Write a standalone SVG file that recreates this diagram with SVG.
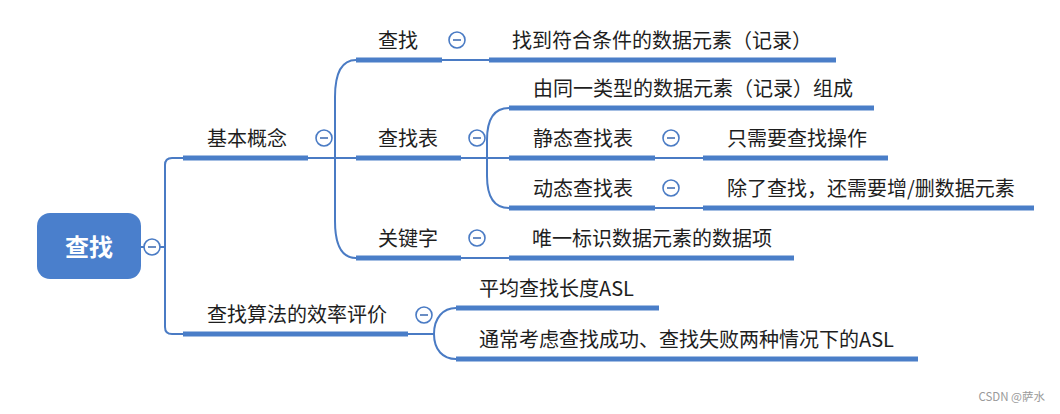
<svg xmlns="http://www.w3.org/2000/svg" width="1060" height="414" viewBox="0 0 1060 414">
<style>
text{font-family:"Noto Sans CJK SC","Noto Sans",sans-serif;}
.t{font-size:20px;fill:#1e1e1e;}
.ul{stroke:#4a7ec8;stroke-width:5;fill:none;}
.ln{stroke:#4a7bc4;stroke-width:2;fill:none;}
.cc{fill:#fff;stroke:#4a7bc4;stroke-width:1.6;}
.mn{stroke:#5a80bd;stroke-width:1.8;}
</style>
<defs>
<g id="col"><circle class="cc" r="8"/><line class="mn" x1="-4" y1="0" x2="4" y2="0"/></g>
</defs>
<rect width="1060" height="414" fill="#fff"/>
<g id="connectors">
<path class="ln" d="M141,247 H165"/>
<path class="ln" d="M183,158 H172 Q165,158 165,165 V327 Q165,334 172,334 H183"/>
<path class="ln" d="M308,158 H356"/>
<path class="ln" d="M356,60 C342,60 335,72 335,97 V221 C335,246 342,258 356,258"/>
<path class="ln" d="M442,60 H489"/>
<path class="ln" d="M461,158 H509"/>
<path class="ln" d="M509,108 C495,108 487,118 487,140 V176 C487,198 495,208 509,208"/>
<path class="ln" d="M655,158 H703"/>
<path class="ln" d="M655,208 H703"/>
<path class="ln" d="M461,258 H509"/>
<path class="ln" d="M408,334 H434"/>
<path class="ln" d="M456,308 C443,308 434,318 434,334 C434,350 443,359 456,359"/>
</g>
<g id="root">
<rect x="37" y="213" width="104" height="66" rx="13" fill="#4a7fcc"/>
<text x="89" y="256" text-anchor="middle" style="font-size:24px;font-weight:bold;fill:#fff">查找</text>
<use href="#col" x="152" y="247"/>
</g>
<g id="n-jbgn">
<line class="ul" x1="183" y1="158" x2="308" y2="158"/>
<text class="t" x="207" y="146">基本概念</text>
<use href="#col" x="324" y="138"/>
</g>
<g id="n-xlpj">
<line class="ul" x1="183" y1="334" x2="408" y2="334"/>
<text class="t" x="207" y="322">查找算法的效率评价</text>
<use href="#col" x="424" y="315"/>
</g>
<g id="n-cz">
<line class="ul" x1="356" y1="60" x2="442" y2="60"/>
<text class="t" x="378" y="48">查找</text>
<use href="#col" x="457" y="40"/>
</g>
<g id="n-czb">
<line class="ul" x1="356" y1="158" x2="461" y2="158"/>
<text class="t" x="378" y="146">查找表</text>
<use href="#col" x="477" y="138"/>
</g>
<g id="n-gjz">
<line class="ul" x1="356" y1="258" x2="461" y2="258"/>
<text class="t" x="378" y="246">关键字</text>
<use href="#col" x="477" y="238"/>
</g>
<g id="n-zd">
<line class="ul" x1="489" y1="60" x2="836" y2="60"/>
<text class="t" x="512" y="48">找到符合条件的数据元素（记录）</text>
</g>
<g id="n-ytyl">
<line class="ul" x1="509" y1="108" x2="874" y2="108"/>
<text class="t" x="533" y="96">由同一类型的数据元素（记录）组成</text>
</g>
<g id="n-jt">
<line class="ul" x1="509" y1="158" x2="655" y2="158"/>
<text class="t" x="533" y="146">静态查找表</text>
<use href="#col" x="671" y="138"/>
</g>
<g id="n-dt">
<line class="ul" x1="509" y1="208" x2="655" y2="208"/>
<text class="t" x="533" y="196">动态查找表</text>
<use href="#col" x="671" y="188"/>
</g>
<g id="n-zxy">
<line class="ul" x1="703" y1="158" x2="888" y2="158"/>
<text class="t" x="727" y="146">只需要查找操作</text>
</g>
<g id="n-cl">
<line class="ul" x1="703" y1="208" x2="1034" y2="208"/>
<text class="t" x="727" y="196">除了查找，还需要增/删数据元素</text>
</g>
<g id="n-wy">
<line class="ul" x1="509" y1="258" x2="794" y2="258"/>
<text class="t" x="532" y="246">唯一标识数据元素的数据项</text>
</g>
<g id="n-pj">
<line class="ul" x1="456" y1="308" x2="659" y2="308"/>
<text class="t" x="479" y="296">平均查找长度ASL</text>
</g>
<g id="n-tc">
<line class="ul" x1="456" y1="359" x2="918" y2="359"/>
<text class="t" x="479" y="347">通常考虑查找成功、查找失败两种情况下的ASL</text>
</g>
<text x="1045" y="401" text-anchor="end" style="font-size:11.5px;fill:#9a9a9a">CSDN @萨水</text>
</svg>
